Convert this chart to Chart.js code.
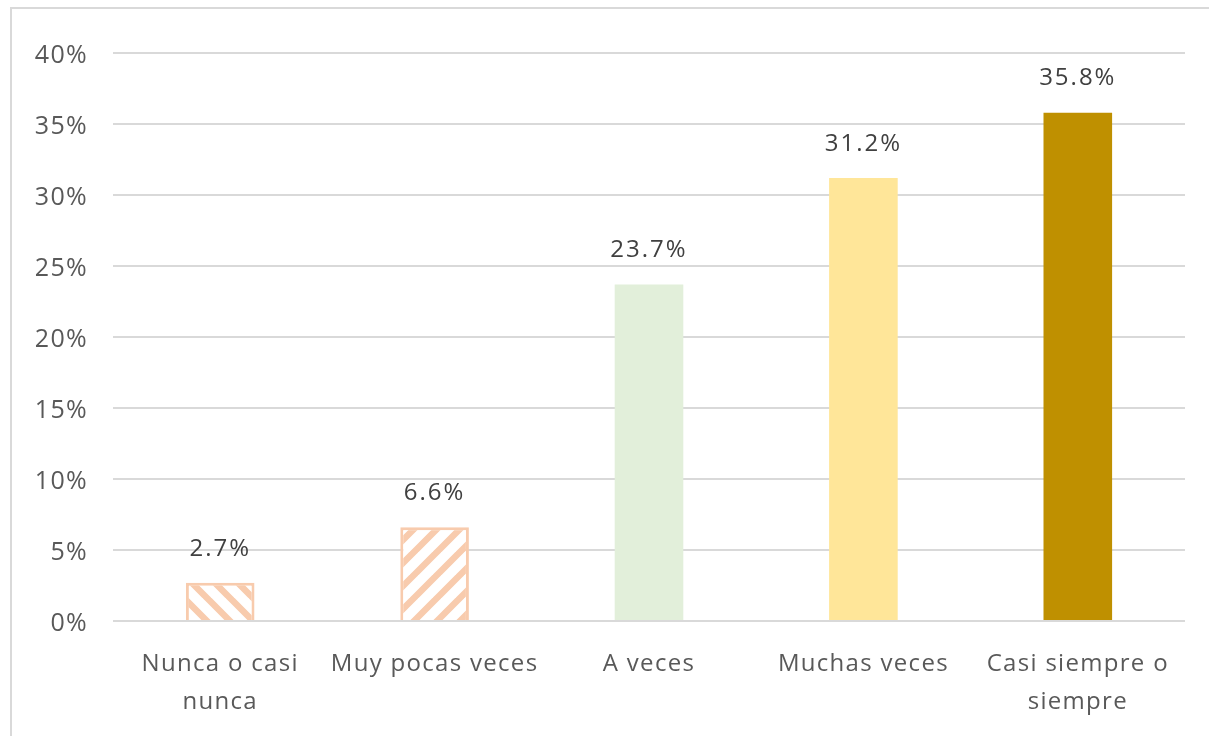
<!DOCTYPE html>
<html>
<head>
<meta charset="utf-8">
<script src="https://cdn.jsdelivr.net/npm/chart.js@4"></script>
<style>
    html, body { margin: 0; padding: 0; background: #fff; overflow: hidden; }
    #frame {
        position: absolute; left: 10px; top: 7px; width: 1240px; height: 780px;
        border: 2px solid #d9d9d9; box-sizing: border-box;
    }
    #wrap { position: absolute; left: 0; top: 0; width: 1209px; height: 736px; }
</style>
</head>
<body>
<div id="frame"></div>
<div id="wrap"><canvas id="chart"></canvas></div>
<script>
// Chart data
const categories = [['Nunca o casi', 'nunca'], 'Muy pocas veces', 'A veces', 'Muchas veces', ['Casi siempre o', 'siempre']];
const values = [2.7, 6.6, 23.7, 31.2, 35.8];
const yTicks = [0, 5, 10, 15, 20, 25, 30, 35, 40];

const peach = '#F8CBAD';

// Diagonal hatch pattern
function makeHatch(color, flip) {
    const size = 23;
    const c = document.createElement('canvas');
    c.width = size;
    c.height = size;
    const g = c.getContext('2d');
    g.fillStyle = '#fff';
    g.fillRect(0, 0, size, size);
    g.strokeStyle = color;
    g.lineWidth = 6.5;
    if (flip) {
        g.translate(size, 0);
        g.scale(-1, 1);
    }
    g.beginPath();
    for (let k = -1; k <= 1; k++) {
        g.moveTo(k * size - 2, size + 2);
        g.lineTo(k * size + size + 2, -2);
    }
    g.stroke();
    return g.createPattern(c, 'repeat');
}

const fills = [makeHatch(peach, true), makeHatch(peach, false), '#E2EFDA', '#FFE699', '#BF9000'];
const borders = [peach, peach, '#E2EFDA', '#FFE699', '#BF9000'];
const borderWidths = [3, 3, 0, 0, 0];

// Value labels above bars
const valueLabels = {
    id: 'valueLabels',
    afterDatasetsDraw(chart) {
        const ctx = chart.ctx;
        const meta = chart.getDatasetMeta(0);
        ctx.save();
        ctx.letterSpacing = '2px';
        ctx.font = '24px "Open Sans"';
        ctx.fillStyle = '#404040';
        ctx.textAlign = 'center';
        ctx.textBaseline = 'middle';
        meta.data.forEach((bar, i) => {
            ctx.fillText(values[i].toFixed(1) + '%', bar.x, bar.y - 34);
        });
        ctx.restore();
    }
};

const spacing = {
    id: 'spacing',
    beforeDraw(chart) {
        chart.ctx.letterSpacing = '1.3px';
    }
};

new Chart(document.getElementById('chart'), {
    type: 'bar',
    data: {
        labels: categories,
        datasets: [{
            data: values,
            backgroundColor: fills,
            borderColor: borders,
            borderWidth: borderWidths,
            categoryPercentage: 1,
            barPercentage: 0.32
        }]
    },
    options: {
        responsive: true,
        maintainAspectRatio: false,
        animation: false,
        layout: { padding: { top: 53, right: 24, left: 0, bottom: 0 } },
        plugins: {
            legend: { display: false },
            tooltip: { enabled: false }
        },
        scales: {
            x: {
                grid: { display: false, drawTicks: false },
                border: { display: false },
                ticks: {
                    color: '#595959',
                    font: { family: 'Open Sans', size: 24, lineHeight: 1.55 },
                    padding: 25,
                    maxRotation: 0,
                    autoSkip: false
                },
                afterFit(scale) { scale.height = 115; }
            },
            y: {
                min: 0,
                max: 40,
                afterBuildTicks(scale) { scale.ticks = yTicks.map(v => ({ value: v })); },
                grid: { color: '#d9d9d9', lineWidth: 2, drawTicks: false },
                border: { display: false },
                ticks: {
                    color: '#595959',
                    font: { family: 'Open Sans', size: 25 },
                    padding: 25,
                    labelOffset: 3,
                    callback: v => v + '%'
                },
                afterFit(scale) { scale.width = 113; }
            }
        }
    },
    plugins: [spacing, valueLabels]
});
</script>
</body>
</html>
